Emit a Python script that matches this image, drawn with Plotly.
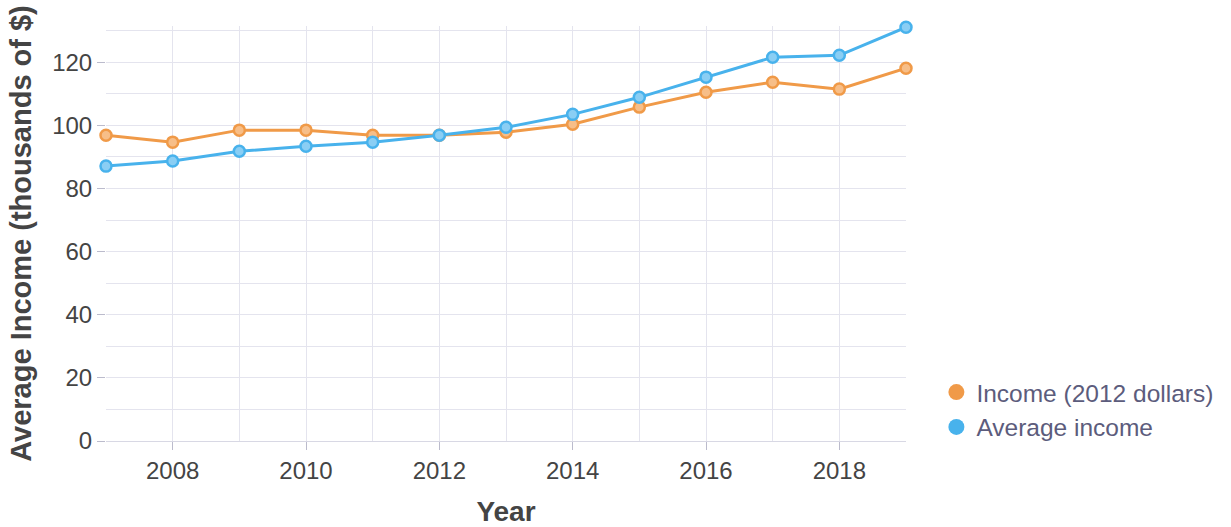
import plotly.graph_objects as go

years = list(range(2007, 2020))
income_2012 = [96.9, 94.7, 98.5, 98.5, 96.9, 96.9, 97.8, 100.4, 105.8, 110.5, 113.7, 111.5, 118.1]
avg_income = [87.1, 88.7, 91.8, 93.4, 94.7, 96.9, 99.4, 103.5, 108.9, 115.3, 121.6, 122.2, 131.1]
series_names = ["Income (2012 dollars)", "Average income"]
x_title = "Year"
y_title = "Average Income (thousands of $)"

ORANGE = "#F09A48"
BLUE = "#48B2EC"
FONT = "Liberation Sans, Arial, sans-serif"

fig = go.Figure()
for name, vals, col, light in [(series_names[0], income_2012, ORANGE, "#F7BE88"),
                               (series_names[1], avg_income, BLUE, "#8ACEF4")]:
    fig.add_trace(go.Scatter(x=years, y=vals, mode="lines+markers", name=name,
                             line=dict(color=col, width=3),
                             marker=dict(size=11, color=light, line=dict(color=col, width=2.5)),
                             cliponaxis=False, showlegend=False))
for name, col in [(series_names[0], ORANGE), (series_names[1], BLUE)]:
    fig.add_trace(go.Scatter(x=[None], y=[None], mode="markers", name=name,
                             marker=dict(size=22, color=col)))

grid = "#E4E4EE"
fig.update_layout(
    width=1231, height=527,
    margin=dict(l=106, r=325, t=26, b=86),
    paper_bgcolor="white", plot_bgcolor="white",
    font=dict(family=FONT, color="#444444"),
    legend=dict(x=1.038, y=0.172, xanchor="left", yanchor="top",
                font=dict(size=24.5, color="#5C5C7C", family=FONT),
                tracegroupgap=0),
    xaxis=dict(range=[2007, 2019], dtick=2, tick0=2008, automargin=False,
               showgrid=True, gridcolor=grid, gridwidth=1,
               minor=dict(dtick=1, tick0=2007, showgrid=True, gridcolor=grid),
               ticks="outside", ticklen=8, tickcolor="#BBBBCC",
               tickfont=dict(size=24, color="#444444"),
               showline=True, linecolor="#D8D8E4", zeroline=False,
               title=dict(text="<b>" + x_title + "</b>", font=dict(size=28, color="#444444"), standoff=22)),
    yaxis=dict(range=[0, 131.5], tickvals=[0, 20, 40, 60, 80, 100, 120], automargin=False,
               showgrid=True, gridcolor=grid,
               minor=dict(tickvals=[10, 30, 50, 70, 90, 110, 130], showgrid=True, gridcolor=grid),
               ticks="outside", ticklen=8, tickcolor="#BBBBCC",
               tickfont=dict(size=24, color="#444444"), zeroline=False,
               showline=False,
               title=dict(text="<b>" + y_title + "</b>", font=dict(size=29, color="#444444"), standoff=12)),
)

fig.write_html("out.html")
